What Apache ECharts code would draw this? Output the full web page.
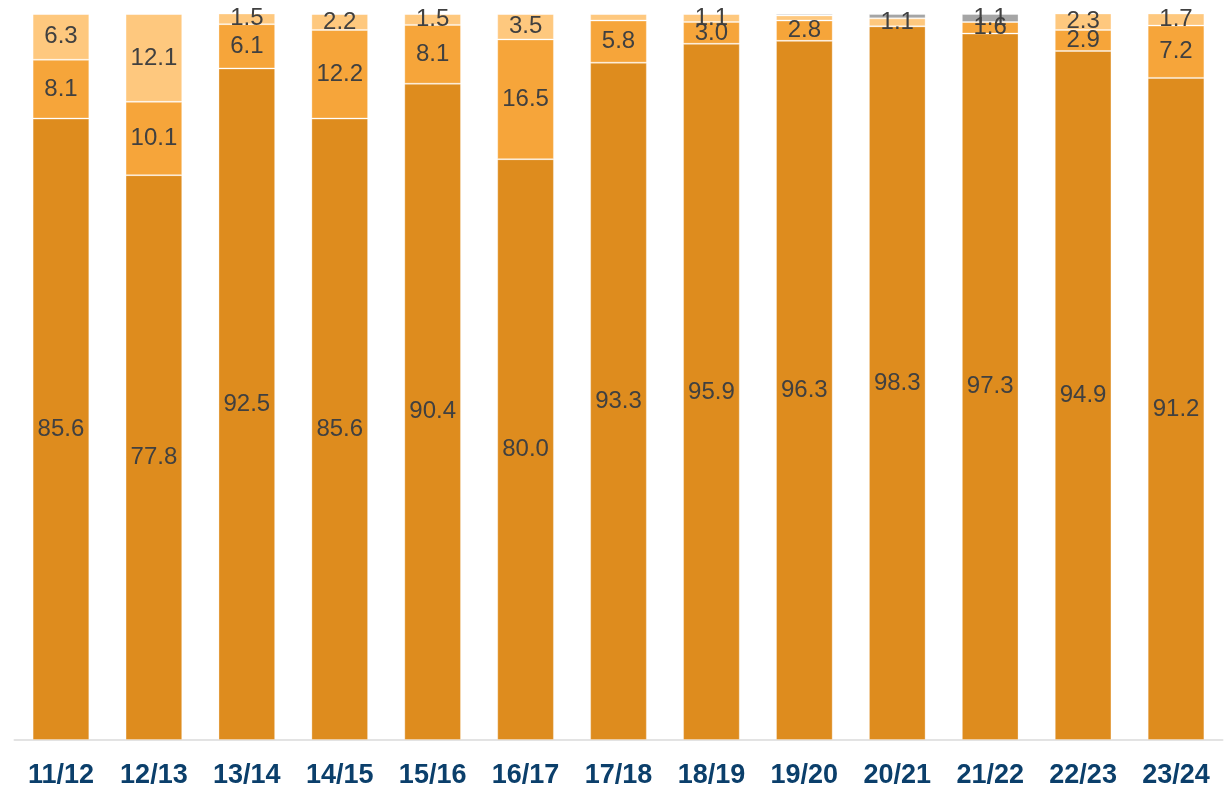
<!DOCTYPE html>
<html><head><meta charset="utf-8">
<script src="https://cdn.jsdelivr.net/npm/echarts@6/dist/echarts.min.js"></script>
<style>html,body{margin:0;padding:0;background:#fff}#c{width:1229px;height:789px}</style>
</head><body><div id="c"></div>
<script>
const categories = ['11/12','12/13','13/14','14/15','15/16','16/17','17/18','18/19','19/20','20/21','21/22','22/23','23/24'];
const seriesA = [85.6, 77.8, 92.5, 85.6, 90.4, 80.0, 93.3, 95.9, 96.3, 98.3, 97.3, 94.9, 91.2];
const seriesB = [8.1, 10.1, 6.1, 12.2, 8.1, 16.5, 5.8, 3.0, 2.8, 0, 1.6, 2.9, 7.2];
const seriesC = [6.3, 12.1, 1.5, 2.2, 1.5, 3.5, 0.9, 1.1, 0.7, 1.1, 0, 2.3, 1.7];
const seriesD = [0, 0, 0, 0, 0, 0, 0, 0, 0.2, 0.6, 1.1, 0, 0];
const colors = ['#DE8C1E', '#F6A53A', '#FEC87E', '#A5A5A5'];

function mk(name, data, color) {
  return {
    name, type: 'bar', stack: 'total', data,
    barCategoryGap: '39%',
    itemStyle: { color, borderColor: 'rgba(255,255,255,0.3)', borderWidth: 1 },
    label: {
      show: true, position: 'inside', color: '#404040', fontSize: 24,
      fontFamily: 'Liberation Sans, Arial, sans-serif',
      formatter: p => p.value >= 1 ? p.value.toFixed(1) : ''
    }
  };
}

const chart = echarts.init(document.getElementById('c'), null, { renderer: 'canvas' });
chart.setOption({
  animation: false,
  grid: { left: 14.5, right: 6.5, top: 14, bottom: 49 },
  xAxis: {
    type: 'category', data: categories,
    axisLine: { lineStyle: { color: '#E3E3E3', width: 2 } },
    axisTick: { show: false },
    axisLabel: { color: '#0B3F6B', fontSize: 27, fontWeight: 'bold', margin: 22,
      fontFamily: 'Liberation Sans, Arial, sans-serif' }
  },
  yAxis: { type: 'value', min: 0, max: 100, show: false, splitLine: { show: false } },
  series: [
    mk('A', seriesA, colors[0]),
    mk('B', seriesB, colors[1]),
    mk('C', seriesC, colors[2]),
    mk('D', seriesD, colors[3])
  ]
});
</script></body></html>
